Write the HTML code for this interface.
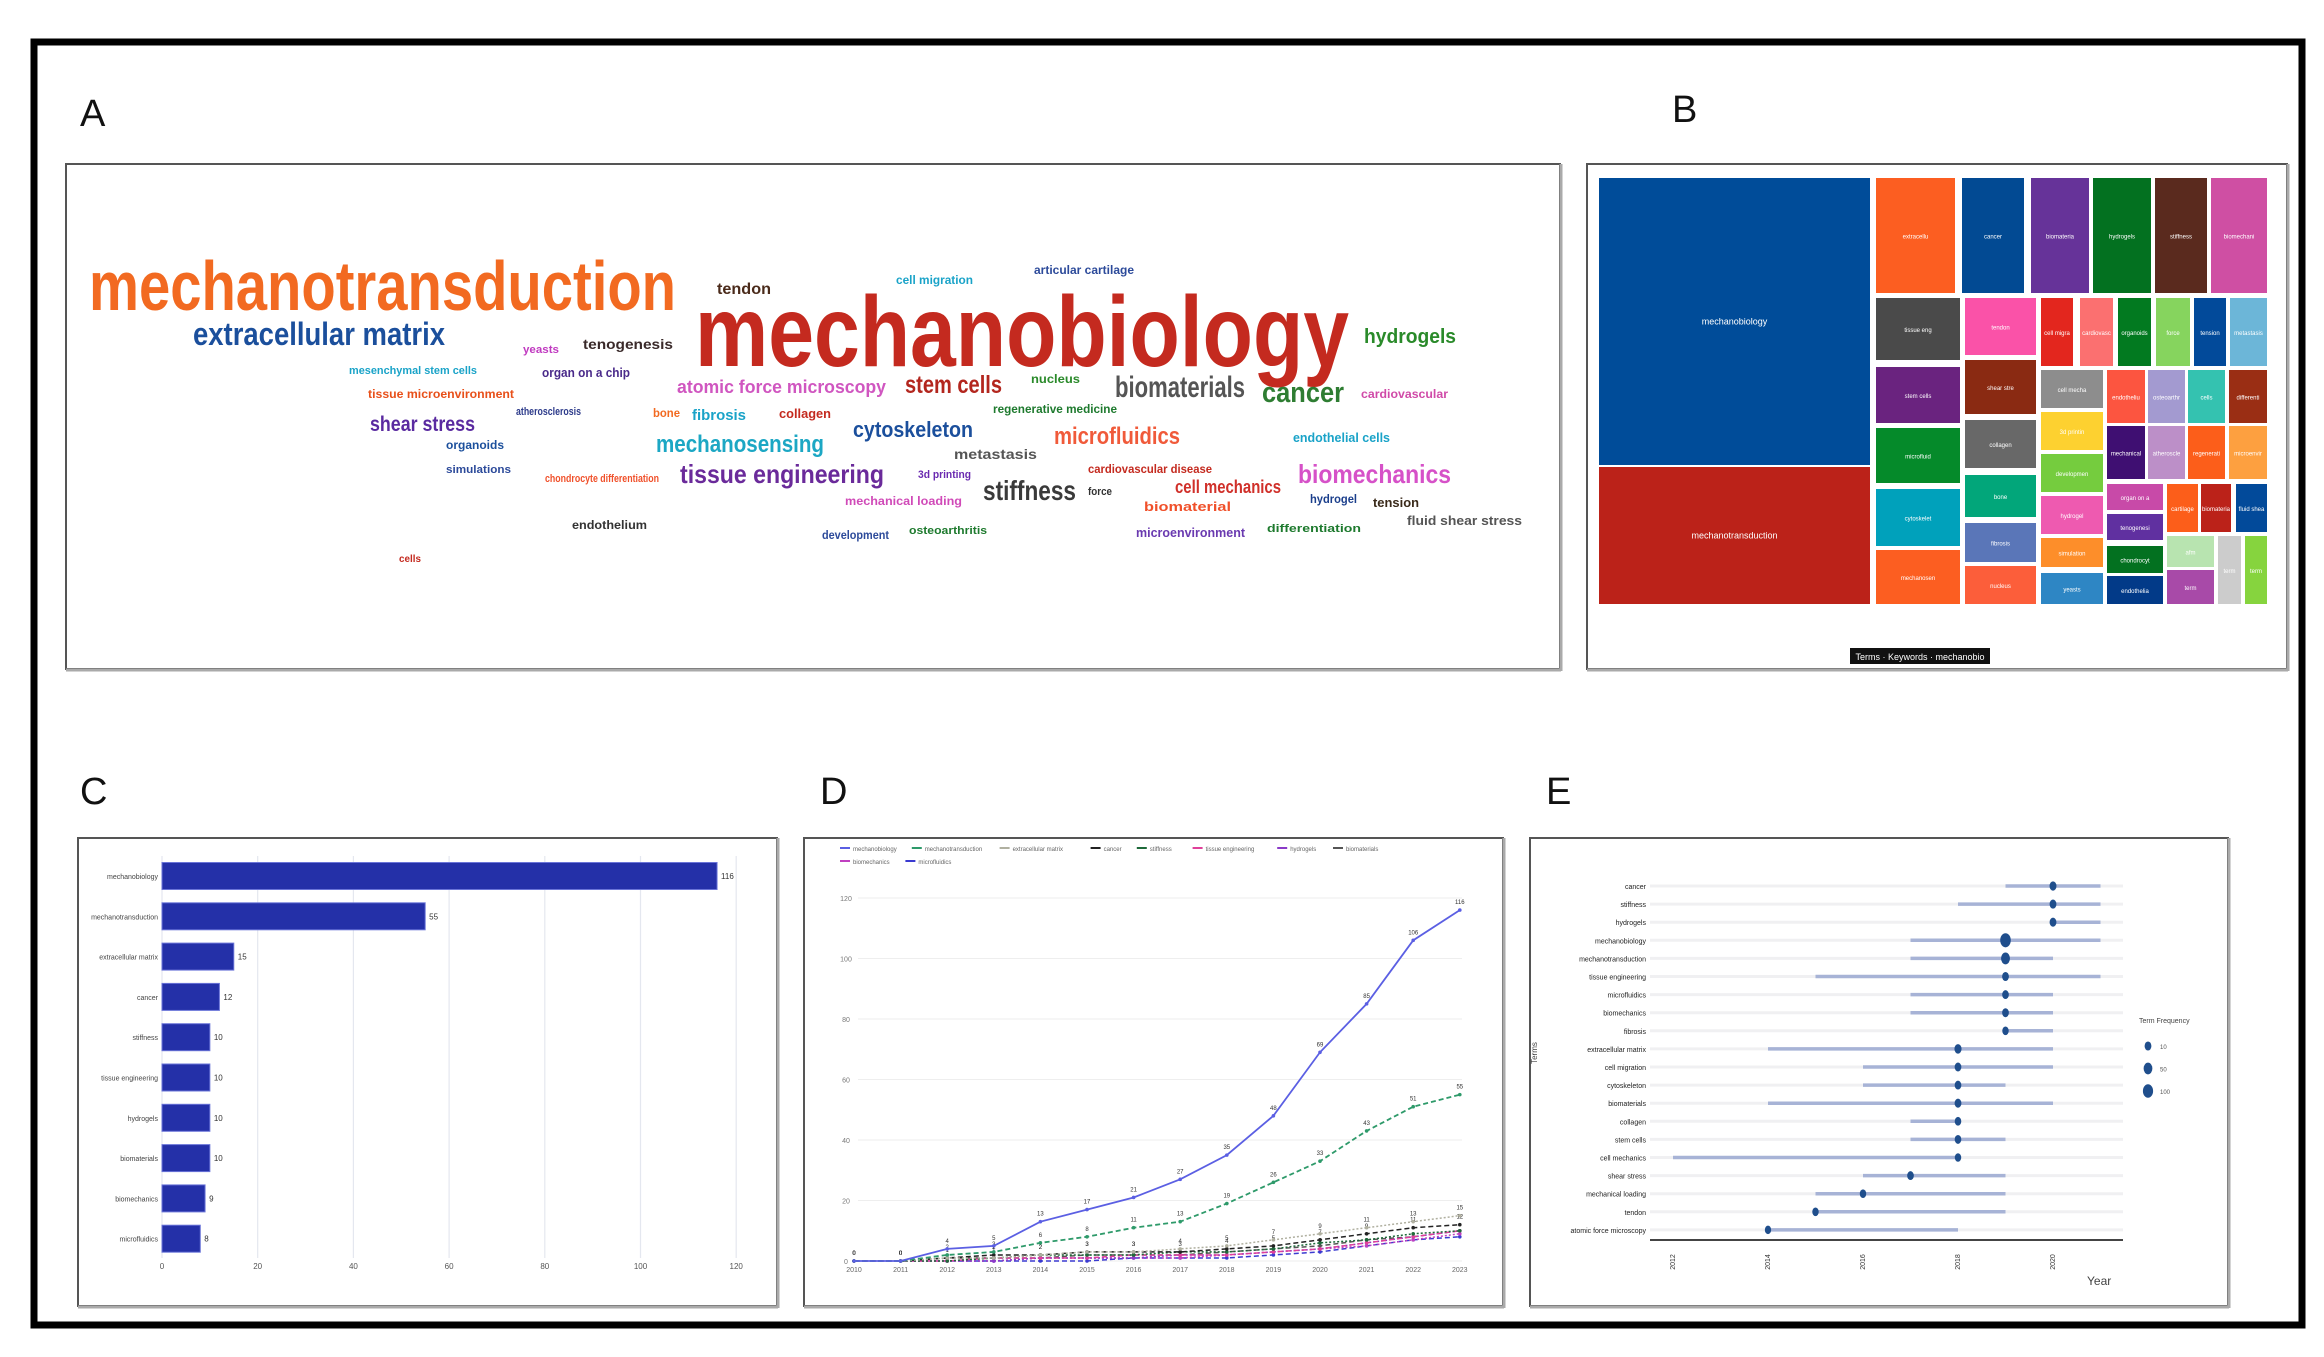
<!DOCTYPE html>
<html><head><meta charset="utf-8"><style>
html,body{margin:0;padding:0;background:#fff;}
svg{display:block;}
.wc{font-family:"Liberation Sans Narrow","Liberation Sans",sans-serif;font-weight:bold;}
.lbl{font-family:"Liberation Sans",sans-serif;}
</style></head><body>
<svg id="root" width="2324" height="1357" viewBox="0 0 2324 1357" xmlns="http://www.w3.org/2000/svg">
<rect x="0" y="0" width="2324" height="1357" fill="#fff"/>
<rect x="34" y="42" width="2268" height="1283" fill="none" stroke="#000" stroke-width="7"/>

<text class="lbl" x="80" y="126" font-size="38" fill="#111">A</text>
<text class="lbl" x="1672" y="122" font-size="38" fill="#111">B</text>
<text class="lbl" x="80" y="804" font-size="38" fill="#111">C</text>
<text class="lbl" x="820" y="804" font-size="38" fill="#111">D</text>
<text class="lbl" x="1546" y="804" font-size="38" fill="#111">E</text>

<!-- Panel frames -->
<g>
<rect x="66" y="164" width="1494" height="505" fill="#fff" stroke="#555" stroke-width="2"/>
<line x1="66" y1="670" x2="1561" y2="670" stroke="#aaa" stroke-width="3"/>
<line x1="1561" y1="164" x2="1561" y2="671" stroke="#aaa" stroke-width="3"/>
</g>
<g>
<rect x="1587" y="164" width="700" height="505" fill="#fff" stroke="#555" stroke-width="2"/>
<line x1="1587" y1="670" x2="2288" y2="670" stroke="#aaa" stroke-width="3"/>
<line x1="2288" y1="164" x2="2288" y2="671" stroke="#aaa" stroke-width="3"/>
</g>
<g>
<rect x="78" y="838" width="699" height="468" fill="#fff" stroke="#555" stroke-width="2"/>
<line x1="78" y1="1307" x2="778" y2="1307" stroke="#aaa" stroke-width="3"/>
<line x1="778" y1="838" x2="778" y2="1308" stroke="#aaa" stroke-width="3"/>
</g>
<g>
<rect x="804" y="838" width="699" height="468" fill="#fff" stroke="#555" stroke-width="2"/>
<line x1="804" y1="1307" x2="1504" y2="1307" stroke="#aaa" stroke-width="3"/>
<line x1="1504" y1="838" x2="1504" y2="1308" stroke="#aaa" stroke-width="3"/>
</g>
<g>
<rect x="1530" y="838" width="698" height="468" fill="#fff" stroke="#555" stroke-width="2"/>
<line x1="1530" y1="1307" x2="2229" y2="1307" stroke="#aaa" stroke-width="3"/>
<line x1="2229" y1="838" x2="2229" y2="1308" stroke="#aaa" stroke-width="3"/>
</g>

<!-- Word cloud -->
<g class="wc" id="wordcloud"></g>
<!-- Treemap -->
<g id="treemap"></g>
<g>
<rect x="1850" y="648" width="140" height="16" fill="#111"/>
<text class="lbl" x="1920" y="660" font-size="9" fill="#fff" text-anchor="middle">Terms · Keywords · mechanobio</text>
</g>
<g id="chartC"></g>
<g id="chartD"></g>
<g id="chartE"></g>
</svg>

<script>
// ---------- Word cloud data ----------
const wcWords = ["mechanotransduction","mechanobiology","extracellular matrix","hydrogels","cancer","biomaterials","stem cells","atomic force microscopy","nucleus","cardiovascular","tendon","cell migration","articular cartilage","tenogenesis","yeasts","mesenchymal stem cells","organ on a chip","tissue microenvironment","atherosclerosis","bone","fibrosis","collagen","regenerative medicine","shear stress","cytoskeleton","microfluidics","endothelial cells","organoids","mechanosensing","metastasis","simulations","chondrocyte differentiation","tissue engineering","3d printing","cardiovascular disease","biomechanics","stiffness","force","cell mechanics","mechanical loading","biomaterial","hydrogel","tension","fluid shear stress","endothelium","development","osteoarthritis","microenvironment","differentiation","cells"];
const wcX = [89,695,193,1364,1262,1115,905,677,1031,1361,717,896,1034,583,523,349,542,368,516,653,692,779,993,370,853,1054,1293,446,656,954,446,545,680,918,1088,1298,983,1088,1175,845,1144,1310,1373,1407,572,822,909,1136,1267,399];
const wcY = [310,366,345,343,402,397,393,393,383,398,294,284,274,349,353,374,377,398,415,417,420,418,413,431,437,444,442,449,452,459,473,482,483,478,473,483,500,495,493,505,511,503,507,525,529,539,534,537,532,562];
const wcW = [587,654,252,92,82,130,97,209,49,87,54,77,100,90,36,128,88,146,65,27,54,52,124,105,120,126,97,58,168,83,65,114,204,53,124,153,93,24,106,117,87,47,46,115,75,67,78,109,94,22];
const wcS = [70,100,32,20,29,30,25,18,12,12,16,12,12,14,11,11,13,12,11,12,15,13,12,21,22,24,13,12,24,14,11,11,26,11,12,26,28,11,18,12,13,12,13,13,12,12,11,13,11,10];
const wcC = ["#f26a21","#c42a1f","#1b4f9c","#2a8a2a","#2e7d32","#555555","#b3261e","#d056c0","#2a8a2a","#d04aa8","#4a2a1a","#1aa3c8","#2c4a9a","#3a2a2a","#c03ac0","#1aa3c8","#4a2a8a","#e8501a","#2c3a8a","#f26a21","#1aa3c8","#c42a1f","#1e7a2e","#5a2aa0","#1b4f9c","#f05a3a","#1aa3c8","#1b4f9c","#1ca7c4","#555555","#2c4a9a","#f0502a","#6a2a9a","#6a2ab0","#c42a1f","#d651c8","#3a3a3a","#333","#d0302a","#d04ab8","#f0502a","#1b3f8c","#3a2a1a","#555555","#333","#2c4a9a","#1e7a2e","#6a3ab0","#1e7a2e","#c42a1f"];
(function(){
  const g=document.getElementById('wordcloud');
  for(let i=0;i<wcWords.length;i++){
    const t=document.createElementNS('http://www.w3.org/2000/svg','text');
    t.setAttribute('x',wcX[i]);t.setAttribute('y',wcY[i]);
    t.setAttribute('font-size',wcS[i]);t.setAttribute('fill',wcC[i]);
    t.setAttribute('textLength',wcW[i]);t.setAttribute('lengthAdjust','spacingAndGlyphs');
    t.textContent=wcWords[i];
    
    
    g.appendChild(t);
  }
})();

// ---------- Treemap cells [x0,y0,x1,y1,color,label] ----------
const tmLabels = ["mechanobiology","mechanotransduction","extracellular matrix","cancer","biomaterials","hydrogels","stiffness","biomechanics","tissue engineering","stem cells","microfluidics","cytoskeleton","mechanosensing","tendon","shear stress","collagen","bone","fibrosis","nucleus","cell migration","cardiovascular","organoids","force","tension","metastasis","cell mechanics","3d printing","development","hydrogel","simulations","yeasts","endothelium","osteoarthritis","cells","differentiation","mechanical loading","atherosclerosis","regenerative medicine","microenvironment","organ on a chip","tenogenesis","cartilage","biomaterial","fluid shear","chondrocyte","endothelial cells","afm"];
const tmRects = [
[1598,177,1871,466,"#004c99"],[1598,466,1871,605,"#bb2219"],
[1875,177,1956,294,"#fc5e21"],[1961,177,2025,294,"#024a93"],[2030,177,2090,294,"#663399"],[2092,177,2152,294,"#037120"],[2154,177,2208,294,"#5a2a1e"],[2210,177,2268,294,"#cf4fa3"],
[1875,297,1961,361,"#4a4a4a"],[1875,366,1961,424,"#6a237f"],[1875,427,1961,484,"#058a2a"],[1875,488,1961,547,"#00a1bb"],[1875,549,1961,605,"#fc5e21"],
[1964,297,2037,356,"#fa52a8"],[1964,359,2037,415,"#8a2a12"],[1964,419,2037,469,"#686868"],[1964,474,2037,518,"#02a67a"],[1964,522,2037,563,"#5a76b8"],[1964,565,2037,605,"#fc5e3a"],
[2040,297,2074,367,"#e3261e"],[2079,297,2114,367,"#fb7070"],[2117,297,2152,367,"#027a20"],[2155,297,2191,367,"#86d45e"],[2193,297,2227,367,"#024a9a"],[2229,297,2268,367,"#6cb6d8"],
[2040,369,2104,409,"#8d8d8d"],[2040,411,2104,451,"#fdd130"],[2040,453,2104,493,"#75cc3e"],[2040,495,2104,535,"#ee5ab0"],[2040,537,2104,568,"#fd8e2a"],[2040,572,2104,605,"#2e86c4"],
[2106,369,2146,424,"#fc5540"],[2147,369,2186,424,"#a39ad0"],[2187,369,2226,424,"#34c2b0"],[2228,369,2268,424,"#9a2e14"],
[2106,425,2146,480,"#3f0f72"],[2147,425,2186,480,"#bc8fc8"],[2187,425,2226,480,"#fc5e1a"],[2228,425,2268,480,"#fda040"],
[2106,483,2164,511,"#c84aa8"],[2106,513,2164,541,"#6030a0"],[2166,483,2199,533,"#fc5e1a"],[2200,483,2232,533,"#bb2219"],[2235,483,2268,533,"#024a9a"],
[2106,545,2164,574,"#037120"],[2106,575,2164,605,"#023a88"],[2166,535,2215,568,"#b8e4b0"],[2166,569,2215,605,"#a84aa8"],[2217,535,2242,605,"#cccccc"],[2244,535,2268,605,"#86d43e"]
];
(function(){
  const g=document.getElementById('treemap');
  tmRects.forEach((r,i)=>{
    const rc=document.createElementNS('http://www.w3.org/2000/svg','rect');
    rc.setAttribute('x',r[0]+1);rc.setAttribute('y',r[1]+1);
    rc.setAttribute('width',r[2]-r[0]-2);rc.setAttribute('height',r[3]-r[1]-2);
    rc.setAttribute('fill',r[4]);
    
    
    g.appendChild(rc);
    const t=document.createElementNS('http://www.w3.org/2000/svg','text');
    t.setAttribute('x',(r[0]+r[2])/2);t.setAttribute('y',(r[1]+r[3])/2+3);
    t.setAttribute('text-anchor','middle');t.setAttribute('font-size',i<2?9:6);
    t.setAttribute('fill','#fff');t.setAttribute('font-family','Liberation Sans, sans-serif');
    t.textContent=(tmLabels[i]||'term').slice(0,i<2?20:10);
    
    
    g.appendChild(t);
  });
})();
</script>

<script>
// ---------- Chart C: top keywords bar chart ----------
const cCategories = ["mechanobiology","mechanotransduction","extracellular matrix","cancer","stiffness","tissue engineering","hydrogels","biomaterials","biomechanics","microfluidics"];
const cValues = [116,55,15,12,10,10,10,10,9,8];
const cTicks = [0,20,40,60,80,100,120];
(function(){
  const NS='http://www.w3.org/2000/svg',g=document.getElementById('chartC');
  const x=v=>162+v*(95.7/20);
  const yc=i=>876+i*40.3;
  cTicks.forEach(t=>{
    const l=document.createElementNS(NS,'line');
    l.setAttribute('x1',x(t));l.setAttribute('x2',x(t));l.setAttribute('y1',856);l.setAttribute('y2',1258);
    l.setAttribute('stroke','#e4e7ef');l.setAttribute('stroke-width',1.2);
    
    
    g.appendChild(l);
    const tx=document.createElementNS(NS,'text');
    tx.setAttribute('x',x(t));tx.setAttribute('y',1269);tx.setAttribute('text-anchor','middle');
    tx.setAttribute('font-size',8);tx.setAttribute('fill','#555');tx.setAttribute('font-family','Liberation Sans, sans-serif');
    tx.textContent=t;
    
    
    g.appendChild(tx);
  });
  cValues.forEach((v,i)=>{
    const r=document.createElementNS(NS,'rect');
    r.setAttribute('x',x(0));r.setAttribute('y',yc(i)-13.5);r.setAttribute('width',x(v)-x(0));r.setAttribute('height',27);
    r.setAttribute('fill','#2430a8');r.setAttribute('stroke','#6a74d8');r.setAttribute('stroke-width',1);
    
    
    g.appendChild(r);
    const vl=document.createElementNS(NS,'text');
    vl.setAttribute('x',x(v)+4);vl.setAttribute('y',yc(i)+3);vl.setAttribute('font-size',8);vl.setAttribute('fill','#333');
    vl.setAttribute('font-family','Liberation Sans, sans-serif');vl.textContent=v;
    
    
    g.appendChild(vl);
    const cl=document.createElementNS(NS,'text');
    cl.setAttribute('x',158);cl.setAttribute('y',yc(i)+3);cl.setAttribute('text-anchor','end');cl.setAttribute('font-size',7);
    cl.setAttribute('fill','#444');cl.setAttribute('font-family','Liberation Sans, sans-serif');cl.textContent=cCategories[i];
    
    
    g.appendChild(cl);
  });
})();
</script>

<script>
// ---------- Chart D: cumulative keyword growth ----------
const dYears = [2010,2011,2012,2013,2014,2015,2016,2017,2018,2019,2020,2021,2022,2023];
const dYTicks = [0,20,40,60,80,100,120];
const dNames = ["mechanobiology","mechanotransduction","extracellular matrix","cancer","stiffness","tissue engineering","hydrogels","biomaterials","biomechanics","microfluidics"];
const dS1 = [0,0,4,5,13,17,21,27,35,48,69,85,106,116];
const dS2 = [0,0,2,3,6,8,11,13,19,26,33,43,51,55];
const dS3 = [0,0,1,1,2,3,3,4,5,7,9,11,13,15];
const dS4 = [0,0,1,2,2,3,3,3,4,5,7,9,11,12];
const dS5 = [0,0,0,1,2,2,2,3,3,4,6,7,9,10];
const dS6 = [0,0,0,1,1,1,2,2,2,3,4,6,8,10];
const dS7 = [0,0,0,0,1,1,1,2,2,3,4,6,8,10];
const dS8 = [0,0,1,1,1,2,2,2,3,4,5,7,8,10];
const dS9 = [0,0,0,0,1,1,1,1,2,3,4,5,7,9];
const dS10 = [0,0,0,0,0,0,1,1,1,2,3,5,7,8];
(function(){
  const NS='http://www.w3.org/2000/svg',g=document.getElementById('chartD');
  const series=[dS1,dS2,dS3,dS4,dS5,dS6,dS7,dS8,dS9,dS10];
  const colors=["#5b5fe3","#2e9a6a","#b0b0a0","#222222","#1e6a3a","#e0409a","#8a3ac8","#555555","#c040c0","#3a3ad0"];
  const x=yr=>854+(yr-2010)*46.6;
  const y=v=>1261-v*3.025;
  dYTicks.forEach(t=>{
    const l=document.createElementNS(NS,'line');
    l.setAttribute('x1',858);l.setAttribute('x2',1462);l.setAttribute('y1',y(t));l.setAttribute('y2',y(t));
    l.setAttribute('stroke','#eeeeee');
    
    
    g.appendChild(l);
    const tx=document.createElementNS(NS,'text');
    tx.setAttribute('x',846);tx.setAttribute('y',y(t)+3);tx.setAttribute('text-anchor','middle');
    tx.setAttribute('font-size',7);tx.setAttribute('fill','#777');tx.setAttribute('font-family','Liberation Sans, sans-serif');
    tx.textContent=t;
    
    
    g.appendChild(tx);
  });
  dYears.forEach(yr=>{
    const tx=document.createElementNS(NS,'text');
    tx.setAttribute('x',x(yr));tx.setAttribute('y',1272);tx.setAttribute('text-anchor','middle');
    tx.setAttribute('font-size',7);tx.setAttribute('fill','#666');tx.setAttribute('font-family','Liberation Sans, sans-serif');
    tx.textContent=yr;
    
    
    g.appendChild(tx);
  });
  for(let s=series.length-1;s>=0;s--){
    const vals=series[s];
    const p=document.createElementNS(NS,'polyline');
    p.setAttribute('points',vals.map((v,i)=>x(dYears[i])+','+y(v)).join(' '));
    p.setAttribute('fill','none');p.setAttribute('stroke',colors[s]);p.setAttribute('stroke-width',s<2?1.8:1.5);
    p.setAttribute('stroke-dasharray',s===0?'':(s%2?'5,3':'2,2'));
    
    
    g.appendChild(p);
    vals.forEach((v,i)=>{
      const c=document.createElementNS(NS,'circle');
      c.setAttribute('cx',x(dYears[i]));c.setAttribute('cy',y(v));c.setAttribute('r',1.8);c.setAttribute('fill',colors[s]);
      
      
      g.appendChild(c);
      if(s<4){
        const t=document.createElementNS(NS,'text');
        t.setAttribute('x',x(dYears[i]));t.setAttribute('y',y(v)-6);t.setAttribute('text-anchor','middle');
        t.setAttribute('font-size',6);t.setAttribute('fill','#333');t.setAttribute('font-family','Liberation Sans, sans-serif');
        t.textContent=v;
        
        
        g.appendChild(t);
      }
    });
  }
  // legend
  let lx=840, ly=850;
  dNames.forEach((n,i)=>{
    if(i===8){lx=840;ly=863;}
    const m=document.createElementNS(NS,'line');
    m.setAttribute('x1',lx);m.setAttribute('x2',lx+10);m.setAttribute('y1',ly-2);m.setAttribute('y2',ly-2);
    m.setAttribute('stroke',colors[i]);m.setAttribute('stroke-width',2);
    
    
    g.appendChild(m);
    const t=document.createElementNS(NS,'text');
    t.setAttribute('x',lx+13);t.setAttribute('y',ly+1);t.setAttribute('font-size',6);t.setAttribute('fill','#666');
    t.setAttribute('font-family','Liberation Sans, sans-serif');t.textContent=n;
    
    
    g.appendChild(t);
    lx+=13+n.length*3.2+14;
  });
})();
</script>

<script>
// ---------- Chart E: trend topics ----------
const eTerms = ["cancer","stiffness","hydrogels","mechanobiology","mechanotransduction","tissue engineering","microfluidics","biomechanics","fibrosis","extracellular matrix","cell migration","cytoskeleton","biomaterials","collagen","stem cells","cell mechanics","shear stress","mechanical loading","tendon","atomic force microscopy"];
const eQ1 = [2019,2018,2020,2017,2017,2015,2017,2017,2019,2014,2016,2016,2014,2017,2017,2012,2016,2015,2015,2014];
const eMed = [2020,2020,2020,2019,2019,2019,2019,2019,2019,2018,2018,2018,2018,2018,2018,2018,2017,2016,2015,2014];
const eQ3 = [2021,2021,2021,2021,2020,2021,2020,2020,2020,2020,2020,2019,2020,2018,2019,2018,2019,2019,2019,2018];
const eFreq = [12,10,10,116,55,10,8,9,6,15,9,8,10,7,8,6,8,6,6,5];
const eXTicks = [2012,2014,2016,2018,2020];
const eLegendFreq = [10,50,100];
(function(){
  const NS='http://www.w3.org/2000/svg',g=document.getElementById('chartE');
  const x=yr=>1673+(yr-2012)*47.5;
  const y=i=>886+i*18.1;
  const ry=f=>3.5+Math.sqrt(f)*0.33;
  const el=(tag,attrs)=>{const e=document.createElementNS(NS,tag);for(const k in attrs)e.setAttribute(k,attrs[k]);g.appendChild(e);return e;};
  eTerms.forEach((t,i)=>{
    const bg=el('line',{x1:1650,x2:2123,y1:y(i),y2:y(i),stroke:'#f0f0f2','stroke-width':3});
    
    
    const b=el('line',{x1:x(eQ1[i]),x2:x(eQ3[i]),y1:y(i),y2:y(i),stroke:'#a7b3d6','stroke-width':3.5});
    
    
    const d=el('ellipse',{cx:x(eMed[i]),cy:y(i),rx:ry(eFreq[i])*0.75,ry:ry(eFreq[i]),fill:'#1f4e8c'});
    
    
    const lb=el('text',{x:1646,y:y(i)+3,'text-anchor':'end','font-size':7,fill:'#222','font-family':'Liberation Sans, sans-serif'});
    lb.textContent=t;
    
    
  });
  const ax=el('line',{x1:1650,x2:2123,y1:1240,y2:1240,stroke:'#444','stroke-width':2});
  
  
  eXTicks.forEach(t=>{
    const tx=el('text',{x:x(t)+2,y:1262,'text-anchor':'middle','font-size':7,fill:'#333','font-family':'Liberation Sans, sans-serif',transform:'rotate(-90 '+(x(t)+2)+' 1262)'});
    tx.textContent=t;
    
    
  });
  const xt=el('text',{x:2087,y:1285,'font-size':12,fill:'#444','font-family':'Liberation Sans Narrow, Liberation Sans, sans-serif'});
  xt.textContent='Year';
  
  
  const yt=el('text',{x:1537,y:1053,'text-anchor':'middle','font-size':8,fill:'#444','font-family':'Liberation Sans, sans-serif',transform:'rotate(-90 1537 1053)'});
  yt.textContent='Terms';
  
  
  const lt=el('text',{x:2139,y:1023,'font-size':7,fill:'#444','font-family':'Liberation Sans, sans-serif'});
  lt.textContent='Term Frequency';
  
  
  eLegendFreq.forEach((f,k)=>{
    const cy=1046+k*22.5;
    const c=el('ellipse',{cx:2148,cy:cy,rx:ry(f)*0.75,ry:ry(f),fill:'#1f4e8c'});
    
    
    const t=el('text',{x:2160,y:cy+3,'font-size':6,fill:'#555','font-family':'Liberation Sans, sans-serif'});
    t.textContent=f;
    
    
  });
})();
</script>
</body></html>
